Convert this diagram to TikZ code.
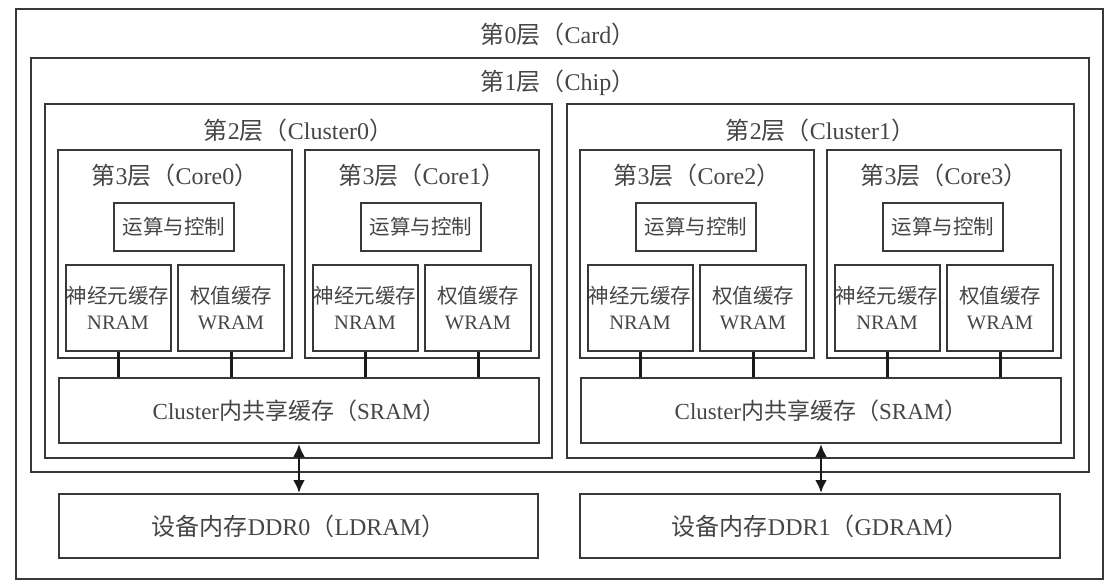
\documentclass[tikz,border=0pt]{standalone}
\usepackage{fontspec}
\setmainfont{Liberation Serif}
\newfontfamily\zhfont{Noto Sans CJK SC}
\newcommand\zh[1]{{\zhfont #1}}
\newcommand\layer[2]{\zh{第}#1\zh{层（}#2\zh{）}}
\usetikzlibrary{arrows.meta}
\definecolor{linegray}{HTML}{383838}
\definecolor{textgray}{HTML}{454545}
\tikzset{
  box/.style 2 args={draw=linegray, line width=2pt, inner sep=0pt,
    minimum width=#1, minimum height=#2, text=textgray, align=center,
    font=\fontsize{23}{26}\selectfont},
  small/.style={font=\fontsize{20.5}{26}\selectfont},
  title/.style={text=textgray, inner sep=0pt, font=\fontsize{24}{26}\selectfont},
  bus/.style={draw=black!90, line width=3pt},
  dblarrow/.style={draw=black!90, line width=2.6pt,
    {Latex[length=13pt,width=12pt]}-{Latex[length=13pt,width=12pt]}}
}
\begin{document}
\begin{tikzpicture}[x=1pt,y=-1pt]
    \useasboundingbox (0,0) rectangle (1106,584);
    % level 0 and 1
    \node[box={1087pt}{570pt}] (card) at (559.5,294) {};
    \node[title] (cardtitle) at (558,34) {\layer{0}{Card}};
    \node[box={1058pt}{414pt}] (chip) at (560,265) {};
    \node[title] (chiptitle) at (558,83) {\layer{1}{Chip}};
    % clusters with shared memory and device memory
    \foreach \c/\x in {0/298.5,1/820.5} {
        \node[box={507pt}{354pt}] (cl\c) at (\x,281) {};
        \node[title] (cltitle\c) at (\x,130) {\layer{2}{Cluster\c}};
        \node[box={480pt}{65pt}] (sram\c) at (\x+0.5,410.5) {Cluster\zh{内共享缓存（}SRAM\zh{）}};
    }
    \node[box={479pt}{64pt}, font=\fontsize{24}{26}\selectfont] (ddr0) at (298.5,526) {\zh{设备内存}DDR0\zh{（}LDRAM\zh{）}};
    \node[box={480pt}{64pt}, font=\fontsize{24}{26}\selectfont] (ddr1) at (820,526) {\zh{设备内存}DDR1\zh{（}GDRAM\zh{）}};
    % cores
    \foreach \k/\x in {0/175,1/422,2/697,3/944} {
        \node[box={234pt}{208pt}] (core\k) at (\x,254) {};
        \node[title] (coretitle\k) at (\x,175) {\layer{3}{Core\k}};
        \node[box={120pt}{48pt}, small] (ctrl\k) at (\x-1,227) {\zh{运算与控制}};
        \node[box={105pt}{86pt}, small] (nram\k) at (\x-57,308) {\zh{神经元缓存}\\NRAM};
        \node[box={106pt}{86pt}, small] (wram\k) at (\x+56,308) {\zh{权值缓存}\\WRAM};
    }
    % links
    \foreach \k/\c in {0/0,1/0,2/1,3/1} {
        \draw[bus] (nram\k.south) -- (nram\k.south |- sram\c.north);
        \draw[bus] (wram\k.south) -- (wram\k.south |- sram\c.north);
    }
    \draw[dblarrow] (sram0.south) -- (sram0.south |- ddr0.north);
    \draw[dblarrow] (sram1.south) -- (sram1.south |- ddr1.north);
\end{tikzpicture}
\end{document}
